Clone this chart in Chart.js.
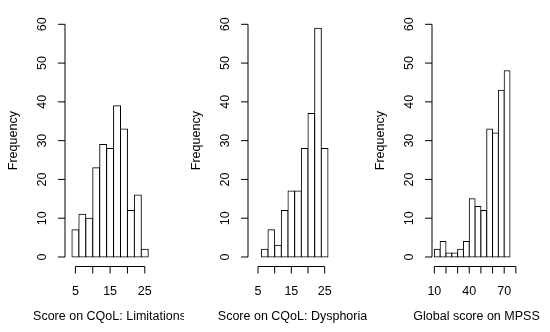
<!DOCTYPE html>
<html>
<head>
<meta charset="utf-8">
<script src="https://cdn.jsdelivr.net/npm/chart.js@4.4.1/dist/chart.umd.min.js"></script>
<style>
  body { margin: 0; background: #fff; }
  #wrap { position: relative; width: 550px; height: 332px; overflow: hidden; }
  canvas { position: absolute; top: 0; }
</style>
</head>
<body>
<div id="wrap">
  <canvas id="c1" width="184" height="332" style="left:0px"></canvas>
  <canvas id="c2" width="184" height="332" style="left:183px"></canvas>
  <canvas id="c3" width="184" height="332" style="left:367px"></canvas>
</div>
<script>
// histogram bins (edges) and counts
const limitationsBreaks = [4, 6, 8, 10, 12, 14, 16, 18, 20, 22, 24, 26];
const limitationsCounts = [7, 11, 10, 23, 29, 28, 39, 33, 12, 16, 2];

const dysphoriaBreaks = [6, 8, 10, 12, 14, 16, 18, 20, 22, 24, 26];
const dysphoriaCounts = [2, 7, 3, 12, 17, 17, 28, 37, 59, 28];

const mpssBreaks = [10, 15, 20, 25, 30, 35, 40, 45, 50, 55, 60, 65, 70, 75];
const mpssCounts = [2, 4, 1, 1, 2, 4, 15, 13, 12, 33, 32, 43, 48];

// axis ticks
const yTicks = [0, 10, 20, 30, 40, 50, 60];
const scoreTicks = [5, 10, 15, 20, 25];
const scoreTickLabels = [5, 15, 25];
const mpssTicks = [10, 20, 30, 40, 50, 60, 70, 80];
const mpssTickLabels = [10, 40, 70];

const FONT = '12.5px "Liberation Sans", Arial, sans-serif';

// R-style axes: lines only span the tick range, drawn away from the bars
const rAxes = {
  id: 'rAxes',
  afterDraw(chart, args, opts) {
    const ctx = chart.ctx;
    const xs = chart.scales.x;
    const ys = chart.scales.y;
    const area = chart.chartArea;
    ctx.save();
    ctx.strokeStyle = '#000';
    ctx.fillStyle = '#000';
    ctx.lineWidth = 1;
    ctx.font = FONT;

    // y axis
    const ax = area.left;
    ctx.beginPath();
    ctx.moveTo(ax, ys.getPixelForValue(yTicks[0]));
    ctx.lineTo(ax, ys.getPixelForValue(yTicks[yTicks.length - 1]));
    yTicks.forEach((v) => {
      const py = ys.getPixelForValue(v);
      ctx.moveTo(ax, py);
      ctx.lineTo(ax - 7, py);
    });
    ctx.stroke();
    ctx.textAlign = 'center';
    ctx.textBaseline = 'middle';
    yTicks.forEach((v) => {
      ctx.save();
      ctx.translate(ax - 22.5, ys.getPixelForValue(v));
      ctx.rotate(-Math.PI / 2);
      ctx.fillText(String(v), 0, 0);
      ctx.restore();
    });
    ctx.save();
    ctx.translate(ax - 51, (area.top + area.bottom) / 2);
    ctx.rotate(-Math.PI / 2);
    ctx.fillText('Frequency', 0, 0);
    ctx.restore();

    // x axis
    const ay = 266.5;
    const ticks = opts.ticks;
    ctx.beginPath();
    ctx.moveTo(xs.getPixelForValue(ticks[0]), ay);
    ctx.lineTo(xs.getPixelForValue(ticks[ticks.length - 1]), ay);
    ticks.forEach((v) => {
      const px = xs.getPixelForValue(v);
      ctx.moveTo(px, ay);
      ctx.lineTo(px, ay + 7);
    });
    ctx.stroke();
    ctx.textBaseline = 'alphabetic';
    opts.labels.forEach((v) => {
      ctx.fillText(String(v), xs.getPixelForValue(v), 294.5);
    });
    ctx.fillText(opts.title, 109.5, 320);
    ctx.restore();
  }
};

function makeHist(id, breaks, counts, xMin, xMax, ticks, labels, title) {
  const points = counts.map((c, i) => ({ x: (breaks[i] + breaks[i + 1]) / 2, y: c }));
  return new Chart(document.getElementById(id), {
    type: 'bar',
    data: {
      datasets: [{
        data: points,
        backgroundColor: '#fff',
        borderColor: '#000',
        borderWidth: 1,
        borderSkipped: false,
        inflateAmount: 0.5,
        barPercentage: 1,
        categoryPercentage: 1
      }]
    },
    options: {
      responsive: false,
      animation: false,
      devicePixelRatio: 1,
      layout: { padding: { left: 65, right: 34, top: 15, bottom: 65.7 } },
      scales: {
        x: { type: 'linear', min: xMin, max: xMax, offset: false, display: false },
        y: { min: -2.4, max: 62.4, display: false }
      },
      plugins: {
        legend: { display: false },
        tooltip: { enabled: false },
        rAxes: { ticks: ticks, labels: labels, title: title }
      }
    },
    plugins: [rAxes]
  });
}

makeHist('c1', limitationsBreaks, limitationsCounts, 2, 26.5, scoreTicks, scoreTickLabels, 'Score on CQoL: Limitations');
makeHist('c2', dysphoriaBreaks, dysphoriaCounts, 2, 27.5, scoreTicks, scoreTickLabels, 'Score on CQoL: Dysphoria');
makeHist('c3', mpssBreaks, mpssCounts, 8, 81, mpssTicks, mpssTickLabels, 'Global score on MPSS');
</script>
</body>
</html>
